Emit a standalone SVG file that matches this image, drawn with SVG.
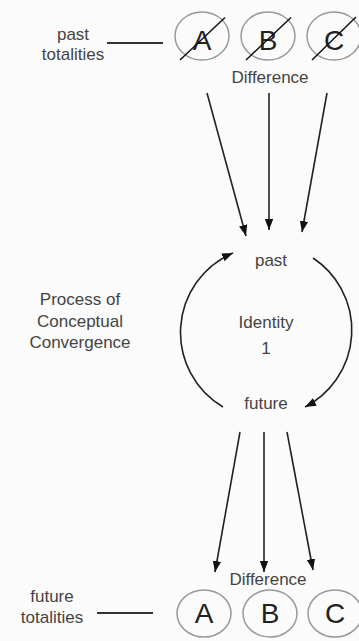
<svg xmlns="http://www.w3.org/2000/svg" width="359" height="641" viewBox="0 0 359 641">
<defs>
<marker id="ah" markerUnits="userSpaceOnUse" markerWidth="12" markerHeight="10" viewBox="0 0 12 10" refX="11" refY="5" orient="auto">
<path d="M0,0.8 L11,5 L0,9.2 Z" fill="#111"/>
</marker>
<style>
.t{font-family:"Liberation Sans",Arial,Helvetica,sans-serif;font-size:17px;fill:#444;text-anchor:middle}
.big{font-family:"Liberation Sans",Arial,Helvetica,sans-serif;font-size:28px;fill:#222;text-anchor:middle}
.ring{fill:none;stroke:#999;stroke-width:1.5}
.strike{stroke:#111;stroke-width:1.5}
.lbl{stroke:#333;stroke-width:2}
.arr{stroke:#222;stroke-width:1.6;fill:none;marker-end:url(#ah)}
</style>
</defs>
<rect width="359" height="641" fill="#fbfbfb"/>

<g id="past-totalities">
<text class="t" x="73" y="40">past</text>
<text class="t" x="73" y="60">totalities</text>
<line class="lbl" x1="107" y1="43" x2="163" y2="43"/>
</g>
<g id="past-A">
<ellipse class="ring" cx="202" cy="36" rx="27" ry="24"/>
<text class="big" x="202" y="50">A</text>
<line class="strike" x1="180" y1="60" x2="225" y2="17.5"/>
</g>
<g id="past-B">
<ellipse class="ring" cx="268" cy="36" rx="27" ry="24"/>
<text class="big" x="268" y="50">B</text>
<line class="strike" x1="246" y1="60" x2="291" y2="17.5"/>
</g>
<g id="past-C">
<ellipse class="ring" cx="334" cy="36" rx="27" ry="24"/>
<text class="big" x="334" y="50">C</text>
<line class="strike" x1="312" y1="60" x2="356" y2="17"/>
</g>
<g id="difference-top">
<text class="t" x="270" y="83">Difference</text>
</g>

<g id="process-label">
<text class="t" x="80" y="305">Process of</text>
<text class="t" x="80" y="327">Conceptual</text>
<text class="t" x="80" y="348">Convergence</text>
</g>
<g id="identity">
<text class="t" x="271" y="266">past</text>
<text class="t" x="266" y="328">Identity</text>
<text class="t" x="266" y="354">1</text>
<text class="t" x="266" y="409">future</text>
</g>

<g id="connectors">
<line class="arr" x1="207" y1="93" x2="246" y2="236"/>
<line class="arr" x1="269" y1="93" x2="269" y2="230"/>
<line class="arr" x1="327" y1="93" x2="302" y2="232"/>
<path class="arr" d="M223,407 A86.5,86.5 0 0 1 233,253"/>
<path class="arr" d="M313,258 A86.5,86.5 0 0 1 305,407"/>
<line class="arr" x1="240" y1="432" x2="215" y2="572"/>
<line class="arr" x1="264" y1="432" x2="264" y2="572"/>
<line class="arr" x1="287" y1="432" x2="313" y2="570"/>
</g>

<g id="difference-bottom">
<text class="t" x="268" y="585">Difference</text>
</g>
<g id="future-totalities">
<text class="t" x="52" y="602">future</text>
<text class="t" x="52" y="623">totalities</text>
<line class="lbl" x1="97" y1="613" x2="153" y2="613"/>
</g>
<g id="future-A">
<ellipse class="ring" cx="204" cy="613.5" rx="27" ry="23.5"/>
<text class="big" x="204" y="623">A</text>
</g>
<g id="future-B">
<ellipse class="ring" cx="270" cy="613.5" rx="27" ry="23.5"/>
<text class="big" x="270" y="623">B</text>
</g>
<g id="future-C">
<ellipse class="ring" cx="335" cy="613.5" rx="27" ry="23.5"/>
<text class="big" x="335" y="623">C</text>
</g>
</svg>
